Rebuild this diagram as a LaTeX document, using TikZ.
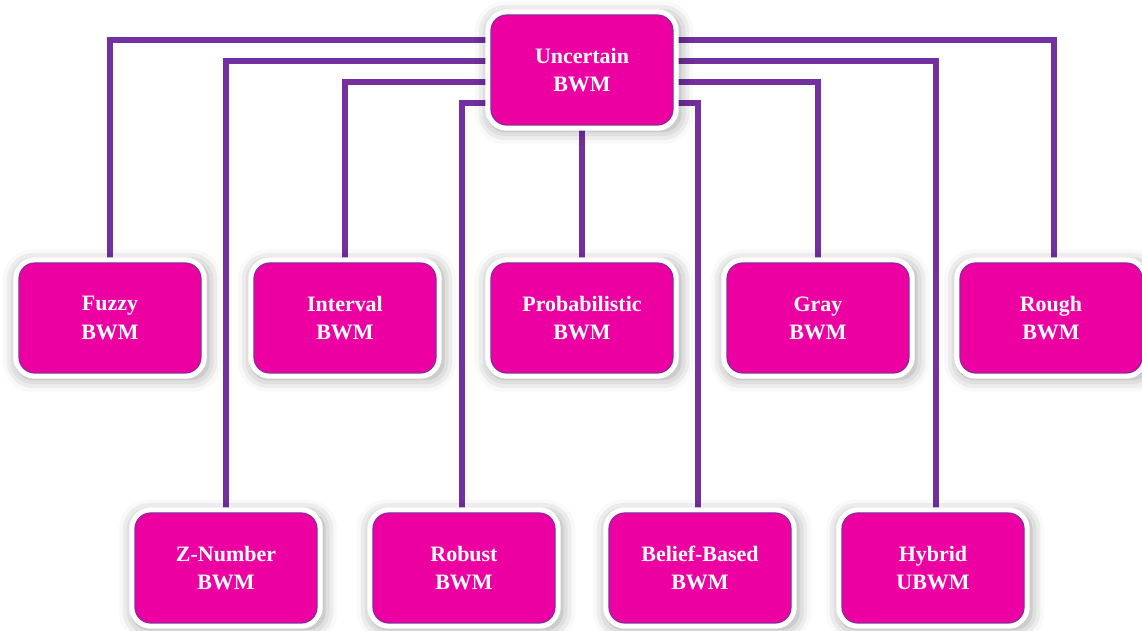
\documentclass[tikz,border=0pt]{standalone}
\usepackage{fontspec}
\setmainfont{Liberation Serif}
\usetikzlibrary{shadows.blur,backgrounds}
\definecolor{BoxPink}{HTML}{EC00A2}
\definecolor{BoxEdge}{HTML}{8A2AA0}
\definecolor{LinkPurple}{HTML}{7330A0}

\begin{document}
\begin{tikzpicture}[every node/.style={font=\fontsize{12.5}{16}\selectfont\bfseries,text=white},box/.style={rounded corners=9pt,fill=BoxPink,draw=BoxEdge,line width=0.7pt,minimum width=3.64cm,minimum height=2.2cm,align=center,blur shadow={shadow xshift=0.4mm,shadow yshift=-0.5mm,shadow blur radius=2.6mm,shadow opacity=40,shadow scale=1.05},preaction={draw=white,line width=6.5pt}},link/.style={draw=LinkPurple,line width=2.9pt}]
\useasboundingbox (0,0) rectangle (22.84,12.62);
\node[box](unc) at (11.64,11.22){Uncertain\\BWM};
\node[box](fuzzy) at (2.2,6.26){Fuzzy\\BWM};\node[box](interval) at (6.9,6.26){Interval\\BWM};\node[box](prob) at (11.64,6.26){Probabilistic\\BWM};\node[box](gray) at (16.36,6.26){Gray\\BWM};\node[box](rough) at (21.02,6.26){Rough\\BWM};
\node[box](znum) at (4.52,1.26){Z-Number\\BWM};\node[box](robust) at (9.28,1.26){Robust\\BWM};\node[box](belief) at (14.0,1.26){Belief-Based\\BWM};\node[box](hybrid) at (18.66,1.26){Hybrid\\UBWM};
\begin{scope}[on background layer]
\draw[link]([yshift=6mm]unc.west)-|(fuzzy.north);\draw[link]([yshift=6mm]unc.east)-|([xshift=0.6mm]rough.north);
\draw[link]([yshift=1.8mm]unc.west)-|(znum.north);\draw[link]([yshift=1.8mm]unc.east)-|([xshift=0.6mm]hybrid.north);
\draw[link]([yshift=-2.4mm]unc.west)-|(interval.north);\draw[link]([yshift=-2.4mm]unc.east)-|(gray.north);
\draw[link]([yshift=-6.6mm]unc.west)-|([xshift=-0.4mm]robust.north);\draw[link]([yshift=-6.6mm]unc.east)-|([xshift=-0.4mm]belief.north);
\draw[link](unc.south)--(prob.north);
\end{scope}
\end{tikzpicture}
\end{document}
